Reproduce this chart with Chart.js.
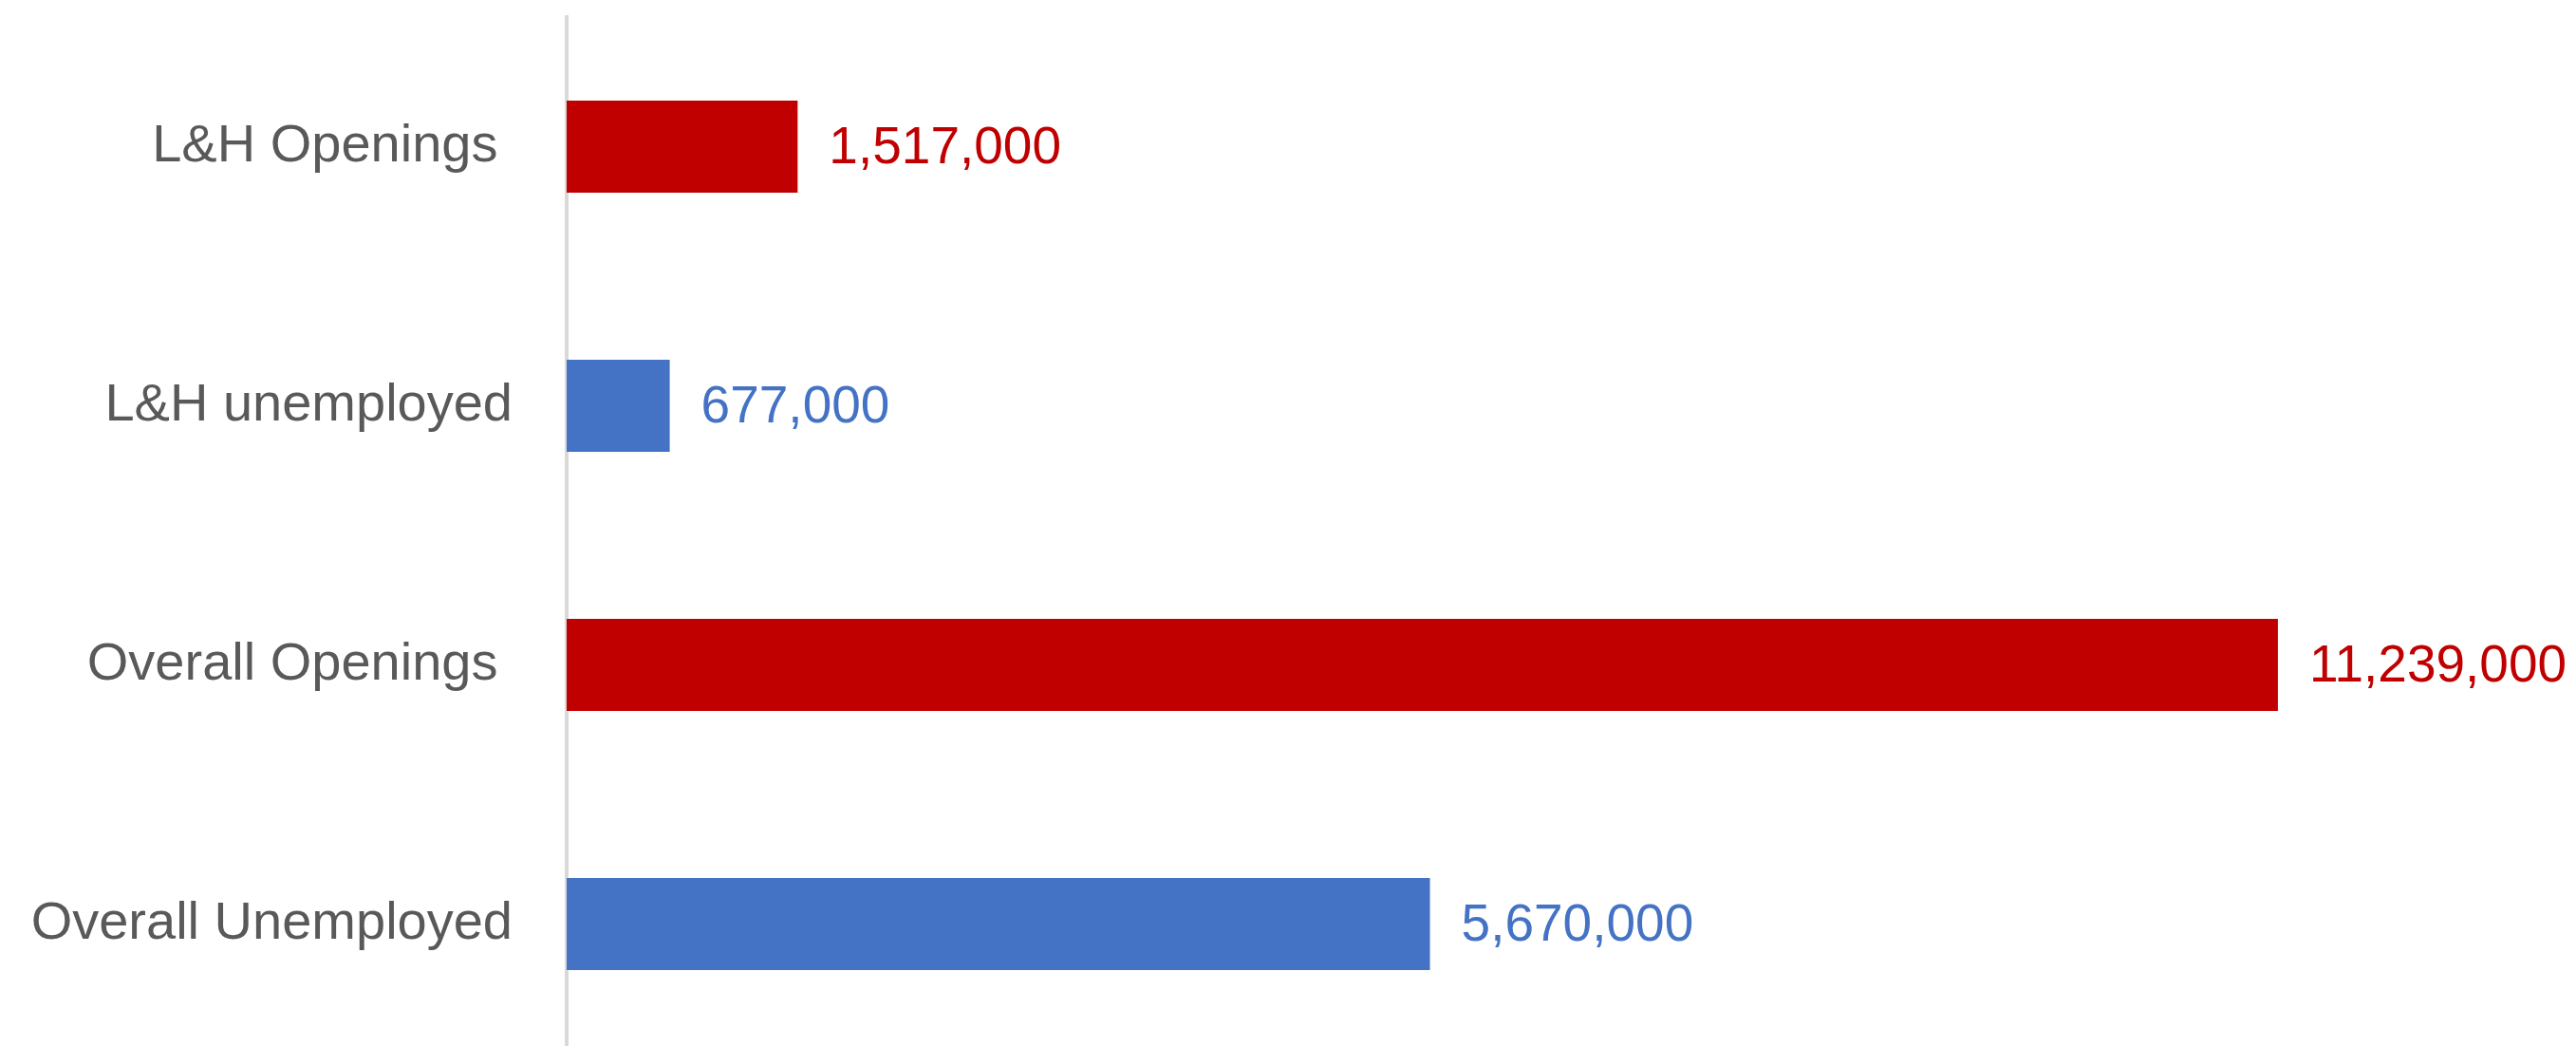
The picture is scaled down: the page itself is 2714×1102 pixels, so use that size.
<!DOCTYPE html>
<html>
<head>
<meta charset="utf-8">
<script src="https://cdn.jsdelivr.net/npm/chart.js@4/dist/chart.umd.min.js"></script>
<style>
  html, body { margin: 0; padding: 0; background: #fff; overflow: hidden; }
  #wrap { position: absolute; left: 0; top: 0; width: 2714px; height: 1110px; }
</style>
</head>
<body>
<div id="wrap"><canvas id="chart"></canvas></div>
<script>
// Chart data
const categories = ['L&H Openings ', 'L&H unemployed', 'Overall Openings ', 'Overall Unemployed'];
const values = [1517000, 677000, 11239000, 5670000];
const barColors = ['#C00000', '#4472C4', '#C00000', '#4472C4'];

const FONT = "'Liberation Sans', Arial, sans-serif";

// draws the value next to the end of each bar
const valueLabels = {
  id: 'valueLabels',
  afterDatasetsDraw(chart) {
    const ctx = chart.ctx;
    const meta = chart.getDatasetMeta(0);
    ctx.save();
    ctx.font = '55px ' + FONT;
    ctx.textAlign = 'left';
    ctx.textBaseline = 'middle';
    meta.data.forEach((bar, i) => {
      ctx.fillStyle = barColors[i];
      ctx.fillText(values[i].toLocaleString('en-US'), bar.x + 33, bar.y + 2);
    });
    ctx.restore();
  }
};

new Chart(document.getElementById('chart').getContext('2d'), {
  type: 'bar',
  data: {
    labels: categories,
    datasets: [{
      data: values,
      backgroundColor: barColors,
      barPercentage: 0.355,
      categoryPercentage: 1
    }]
  },
  options: {
    indexAxis: 'y',
    responsive: true,
    maintainAspectRatio: false,
    animation: false,
    layout: { padding: { top: 18, right: 192, bottom: 0, left: 0 } },
    plugins: { legend: { display: false }, tooltip: { enabled: false } },
    scales: {
      x: {
        display: false,
        min: 0,
        max: 12000000
      },
      y: {
        afterFit: (scale) => {
          scale.width = 597;
          scale.paddingTop = 0;
          scale.paddingBottom = 0;
        },
        grid: { drawOnChartArea: false, drawTicks: false },
        border: { display: true, color: '#D9D9D9', width: 4 },
        ticks: {
          color: '#595959',
          padding: 57,
          font: { family: FONT, size: 56 }
        }
      }
    }
  },
  plugins: [valueLabels]
});
</script>
</body>
</html>
